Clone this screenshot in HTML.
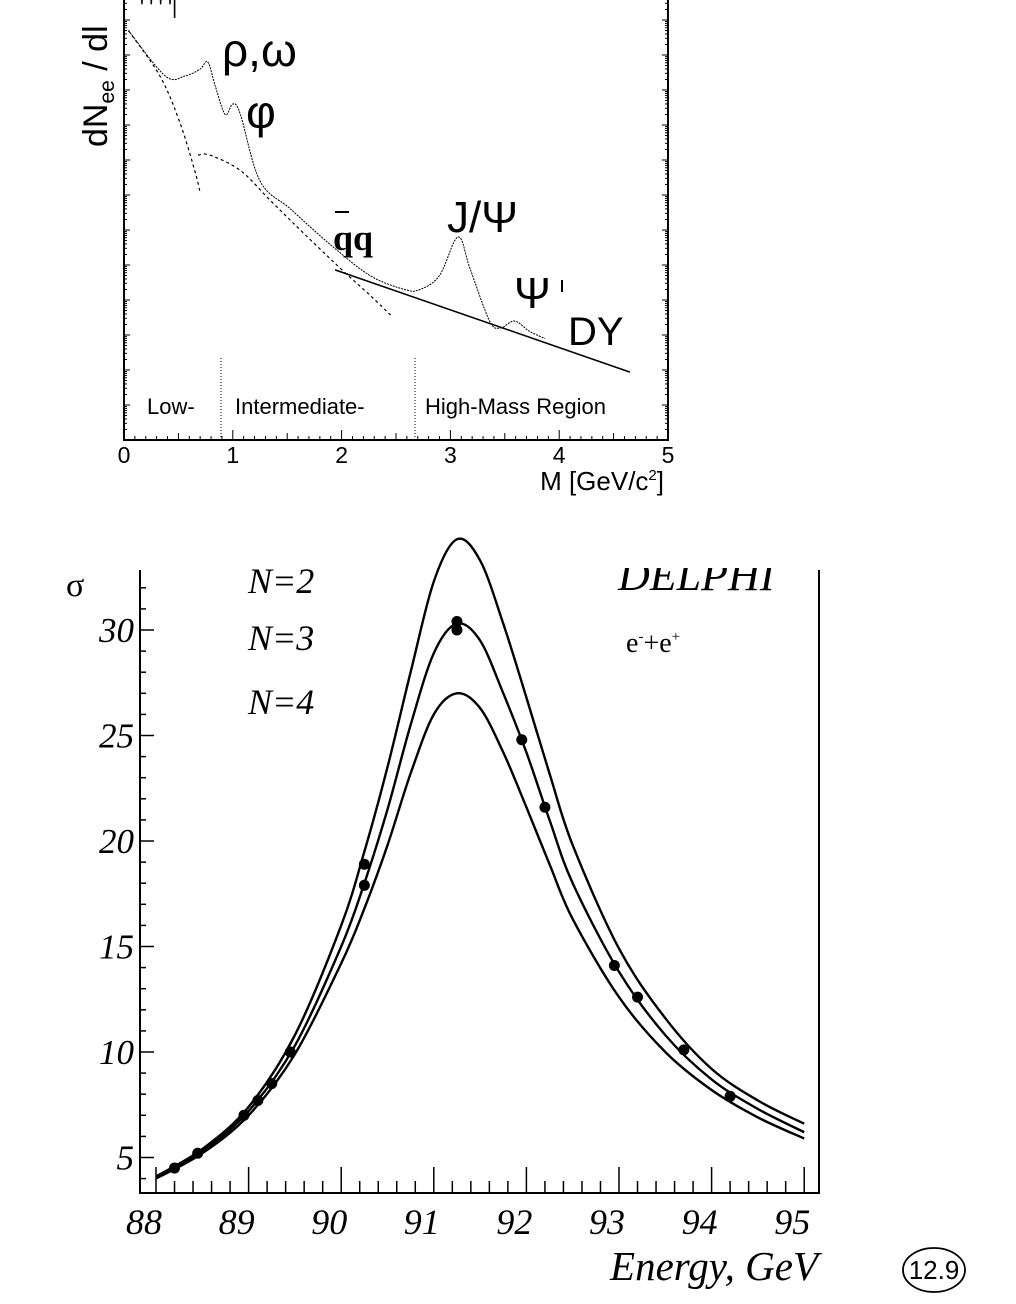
<!DOCTYPE html>
<html><head><meta charset="utf-8"><style>
html,body{margin:0;padding:0;background:#fff;width:1016px;height:1304px;overflow:hidden}
svg{display:block}
.sans{font-family:"Liberation Sans",sans-serif}
.serif{font-family:"Liberation Serif",serif}
</style></head><body>
<svg id="svg" width="1016" height="1304" viewBox="0 0 1016 1304">
<defs><clipPath id="dc"><rect x="600" y="568" width="220" height="60"/></clipPath></defs>
<g id="top"></g>
<g id="bot"></g>
</svg>
<script>
// ---------- Top chart data ----------
const topXTicks = [0,1,2,3,4,5];
const totalM = [0.04,0.38,0.56,0.70,0.77,0.84,0.93,1.0,1.07,1.25,1.53,1.89,2.26,2.58,2.72,2.90,3.07,3.18,3.36,3.46,3.59,3.73,3.87];
const totalD = [11.7,10.4,10.4,10.6,10.8,10.1,9.3,9.6,9.3,7.4,6.6,5.6,4.7,4.3,4.3,4.7,5.8,4.9,3.4,3.2,3.4,3.1,2.9];
const lowM = [0.04,0.33,0.51,0.65,0.70];
const lowD = [11.7,10.4,9.1,7.7,7.06];
const qqM = [0.68,0.79,1.07,1.34,1.62,1.99,2.26,2.45];
const qqD = [8.14,8.14,7.7,6.86,6.0,4.9,4.14,3.57];
const dyM = [1.94,4.65];
const dyD = [4.86,1.94];
// ---------- Bottom chart data ----------
const energies = [88,88.5,89,89.5,90,90.25,90.5,90.75,91,91.25,91.5,91.75,92,92.25,92.5,93,93.5,94,94.5,95];
const sigmaN2 = [4.1,5.4,7.4,10.8,16.0,19.5,23.5,28.0,32.3,34.3,33.3,30.3,26.8,23.2,19.8,14.9,11.6,9.2,7.7,6.6];
const sigmaN3 = [4.1,5.3,7.2,10.3,15.0,18.0,21.5,25.5,28.9,30.3,29.5,27.0,24.2,21.0,18.0,13.8,10.8,8.7,7.3,6.2];
const sigmaN4 = [4.0,5.2,7.0,9.9,14.2,16.8,19.8,23.2,26.0,27.0,26.3,24.2,21.6,18.9,16.3,12.6,10.0,8.2,6.9,5.9];
const pointE = [88.2,88.45,88.95,89.1,89.25,89.45,90.25,90.25,91.25,91.25,91.95,92.2,92.95,93.2,93.7,94.2];
const pointS = [4.5,5.2,7.0,7.7,8.5,10.0,18.9,17.9,30.4,30.0,24.8,21.6,14.1,12.6,10.1,7.9];
const xTickLabels = [88,89,90,91,92,93,94,95];
const yTickLabels = [5,10,15,20,25,30];

const NS='http://www.w3.org/2000/svg';
function mk(parent,tag,attrs,text){const e=document.createElementNS(NS,tag);for(const k in attrs)e.setAttribute(k,attrs[k]);if(text!==undefined)e.textContent=text;parent.appendChild(e);return e;}
function smoothPts(p){let d='M'+p[0][0].toFixed(1)+','+p[0][1].toFixed(1);
  for(let i=0;i<p.length-1;i++){const p0=p[i-1]||p[i],p1=p[i],p2=p[i+1],p3=p[i+2]||p2;
    const c1=[p1[0]+(p2[0]-p0[0])/6,p1[1]+(p2[1]-p0[1])/6],c2=[p2[0]-(p3[0]-p1[0])/6,p2[1]-(p3[1]-p1[1])/6];
    d+=` C${c1[0].toFixed(1)},${c1[1].toFixed(1)} ${c2[0].toFixed(1)},${c2[1].toFixed(1)} ${p2[0].toFixed(1)},${p2[1].toFixed(1)}`;}
  return d;}

// ===== TOP =====
const T=document.getElementById('top');
const tx=m=>124+m*108.8, ty=d=>440-d*35;
let e;
e=mk(T,'path',{d:'M124,0 V440 H668 V0',fill:'none',stroke:'#000','stroke-width':2});

for(let dec=0;dec<13;dec++){
  for(let k=1;k<10;k++){
    const y=ty(dec+Math.log10(k)); if(y<0||y>440) continue;
    const L=k===1?6:3;
    mk(T,'line',{x1:124,x2:124+L,y1:y,y2:y,stroke:'#000','stroke-width':1});
    mk(T,'line',{x1:668,x2:668-L,y1:y,y2:y,stroke:'#000','stroke-width':1});
  }
}
for(let i=0;i<=50;i++){const x=tx(i*0.1);const L=i%10===0?10:(i%5===0?7:4);
  mk(T,'line',{x1:x,x2:x,y1:440,y2:440-L,stroke:'#000','stroke-width':1});}
topXTicks.forEach(v=>{const t=mk(T,'text',{x:tx(v),y:463,'text-anchor':'middle','font-size':23,class:'sans'},v);
  });
e=mk(T,'text',{x:664,y:490,'text-anchor':'end','font-size':26,class:'sans'});
e.innerHTML='M [GeV/c<tspan font-size="15" dy="-10">2</tspan><tspan dy="10">]</tspan>';

e=mk(T,'text',{x:0,y:0,transform:'translate(107,147) rotate(-90)','font-size':34,class:'sans'});
e.innerHTML='dN<tspan font-size="21" dy="7">ee</tspan><tspan dy="-7"> / dl</tspan>';

e=mk(T,'text',{x:140,y:14,'font-size':20,class:'sans'},"' ' ' '|");

function tp(M,D){return smoothPts(M.map((m,i)=>[tx(m),ty(D[i])]));}
e=mk(T,'path',{d:tp(totalM,totalD),fill:'none',stroke:'#000','stroke-width':1,'stroke-dasharray':'2,1'});

e=mk(T,'path',{d:tp(lowM,lowD),fill:'none',stroke:'#000','stroke-width':1.2,'stroke-dasharray':'3,3'});

e=mk(T,'path',{d:tp(qqM,qqD),fill:'none',stroke:'#000','stroke-width':1.2,'stroke-dasharray':'3,3'});

e=mk(T,'path',{d:'M'+tx(dyM[0])+','+ty(dyD[0])+' L'+tx(dyM[1])+','+ty(dyD[1]),fill:'none',stroke:'#000','stroke-width':1.6});

[221,415].forEach(x=>{e=mk(T,'line',{x1:x,x2:x,y1:358,y2:440,stroke:'#000','stroke-width':1,'stroke-dasharray':'1,2'});
  });
[['Low-',147],['Intermediate-',235],['High-Mass Region',425]].forEach(([s,x])=>{
  e=mk(T,'text',{x:x,y:414,'font-size':22,class:'sans'},s);
  });
[['ρ,ω',222,66,46],['φ',246,128,46],['J/Ψ',447,232,44],['Ψ',514,308,44],['DY',568,345,40]].forEach(([s,x,y,f])=>{
  e=mk(T,'text',{x:x,y:y,'font-size':f,class:'sans'},s);
  });
e=mk(T,'text',{x:333,y:250,'font-size':36,'font-weight':'bold',class:'serif'},'qq');

mk(T,'line',{x1:335,x2:349,y1:212,y2:212,stroke:'#000','stroke-width':2});
mk(T,'line',{x1:562,x2:562,y1:280,y2:292,stroke:'#000','stroke-width':2});

// ===== BOTTOM =====
const B=document.getElementById('bot');
const bx=E=>156+(E-88)*92.6, by=s=>630-(s-30)*21.1;
e=mk(B,'path',{d:'M140,570 V1193 H819 V570',fill:'none',stroke:'#000','stroke-width':2});

for(let s=4;s<=32;s++){const y=by(s);const L=s%5===0?14:6;
  mk(B,'line',{x1:140,x2:140+L,y1:y,y2:y,stroke:'#000','stroke-width':1.5});}
for(let i=0;i<=35;i++){const x=bx(88+i*0.2);const L=i%5===0?26:12;
  mk(B,'line',{x1:x,x2:x,y1:1193,y2:1193-L,stroke:'#000','stroke-width':1.5});}
yTickLabels.forEach(v=>{e=mk(B,'text',{x:134,y:by(v)+12,'text-anchor':'end','font-size':35,'font-style':'italic',class:'serif'},v);
  });
xTickLabels.forEach(v=>{e=mk(B,'text',{x:bx(v)-12,y:1234,'text-anchor':'middle','font-size':36,'font-style':'italic',class:'serif'},v);
  });
e=mk(B,'text',{x:818,y:1280,'text-anchor':'end','font-size':41,'font-style':'italic',class:'serif'},'Energy, GeV');

e=mk(B,'text',{x:66,y:596,'font-size':34,class:'serif'},'σ');

[['N=2',593],['N=3',650],['N=4',714]].forEach(([s,y])=>{
  e=mk(B,'text',{x:248,y:y,'font-size':36,'font-style':'italic',class:'serif'},s);
  });
e=mk(B,'text',{x:618,y:590,'font-size':44,'font-style':'italic',class:'serif','clip-path':'url(#dc)'},'DELPHI');

e=mk(B,'text',{x:626,y:652,'font-size':28,class:'serif'});
e.innerHTML='e<tspan font-size="15" dy="-11">-</tspan><tspan dy="11">+e</tspan><tspan font-size="15" dy="-11">+</tspan>';

[[sigmaN2,'curve-n2'],[sigmaN3,'curve-n3'],[sigmaN4,'curve-n4']].forEach(([s,n])=>{
  e=mk(B,'path',{d:smoothPts(energies.map((E,i)=>[bx(E),by(s[i])])),fill:'none',stroke:'#000','stroke-width':2.4});
  });
pointE.forEach((E,i)=>{e=mk(B,'circle',{cx:bx(E),cy:by(pointS[i]),r:5.5,fill:'#000'});
  });
e=mk(B,'ellipse',{cx:934,cy:1270,rx:31,ry:22,fill:'none',stroke:'#000','stroke-width':1.8});

e=mk(B,'text',{x:934,y:1279,'text-anchor':'middle','font-size':26,class:'sans'},'12.9');

</script>
</body></html>
